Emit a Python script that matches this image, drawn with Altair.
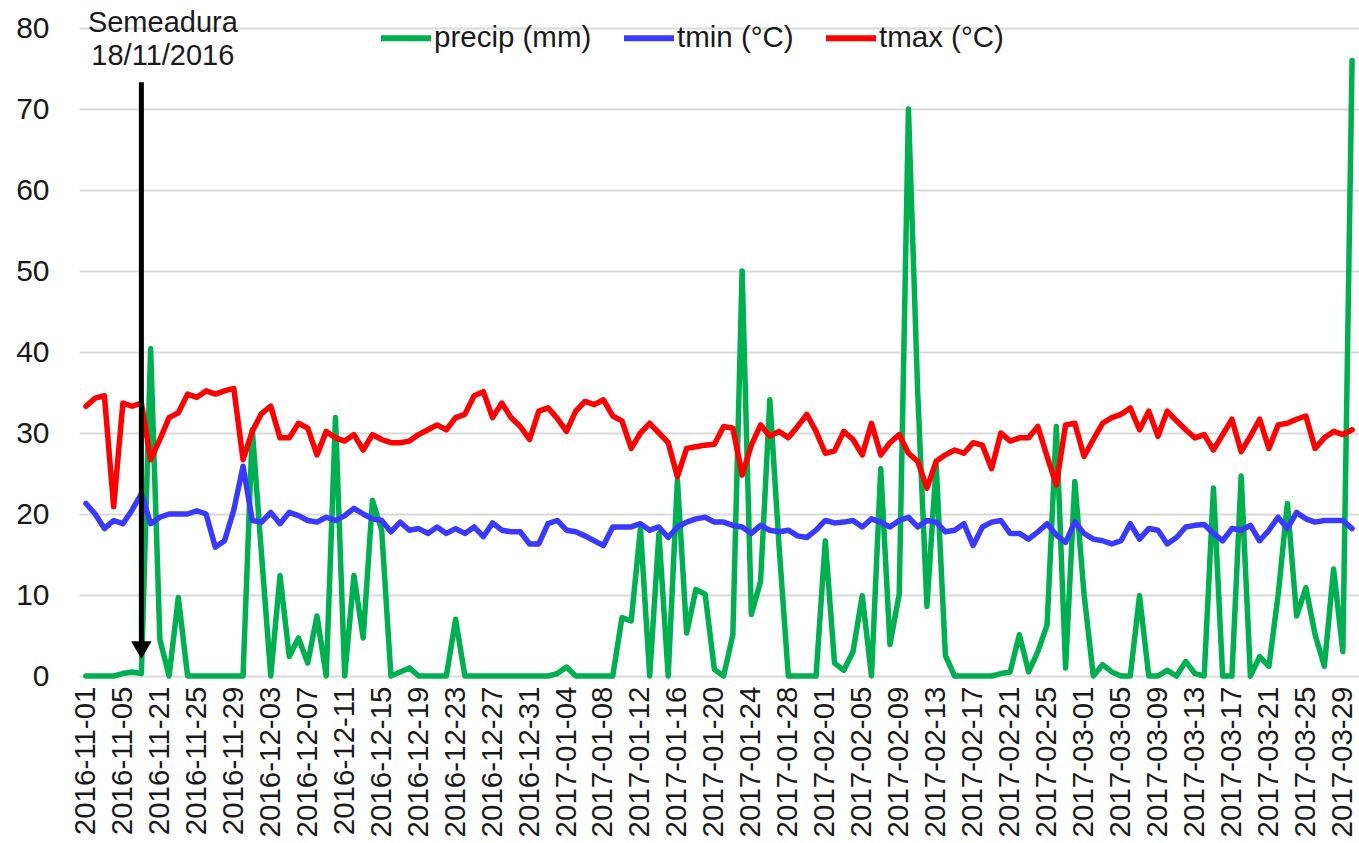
import altair as alt
import pandas as pd

# Categories (text axis: 2016-11-01..08, then 2016-11-21..2017-03-30)
dates = [d.strftime("%Y-%m-%d") for d in pd.date_range("2016-11-01", "2016-11-08")] + \
        [d.strftime("%Y-%m-%d") for d in pd.date_range("2016-11-21", "2017-03-30")]

precip = [
    0, 0, 0, 0, 0.3, 0.5, 0.3, 40.4, 4.5, 0,
    9.7, 0, 0, 0, 0, 0, 0, 0, 30.4, 15,
    0, 12.4, 2.4, 4.7, 1.6, 7.4, 0, 31.9, 0, 12.4,
    4.7, 21.7, 18, 0, 0.5, 1.0, 0, 0, 0, 0,
    7.0, 0, 0, 0, 0, 0, 0, 0, 0, 0,
    0, 0.3, 1.1, 0, 0, 0, 0, 0, 7.2, 6.8,
    18.2, 0, 17.6, 0, 24.2, 5.3, 10.7, 10.1, 0.8, 0,
    5.1, 50, 7.6, 11.7, 34.1, 16, 0, 0, 0, 0,
    16.7, 1.6, 0.7, 3.0, 9.9, 0, 25.6, 3.9, 10.1, 70,
    35, 8.6, 26.1, 2.5, 0, 0, 0, 0, 0, 0.3,
    0.5, 5.1, 0.5, 3.0, 6.3, 30.8, 1.0, 24.0, 10.1, 0,
    1.4, 0.5, 0, 0, 9.9, 0, 0, 0.7, 0, 1.8,
    0.3, 0, 23.2, 0, 0, 24.7, 0, 2.4, 1.2, 10,
    21.3, 7.4, 10.9, 5.1, 1.2, 13.2, 3.0, 76,
]

tmin = [
    21.3, 20.0, 18.2, 19.2, 18.8, 20.5, 22.5, 18.8, 19.6, 20.0,
    20.0, 20.0, 20.4, 20.0, 15.9, 16.7, 20.5, 25.9, 19.2, 19.0,
    20.2, 18.8, 20.2, 19.8, 19.2, 19.0, 19.6, 19.2, 19.8, 20.7,
    20.0, 19.4, 19.2, 17.8, 19.0, 18.0, 18.2, 17.6, 18.4, 17.6,
    18.2, 17.6, 18.4, 17.2, 18.9, 18.0, 17.8, 17.8, 16.3, 16.3,
    18.8, 19.2, 18.0, 17.8, 17.3, 16.7, 16.1, 18.4, 18.4, 18.4,
    18.8, 18.0, 18.4, 17.1, 18.4, 19.0, 19.4, 19.6, 19.0, 19.0,
    18.6, 18.4, 17.6, 18.6, 18.0, 17.8, 18.0, 17.3, 17.1, 18.0,
    19.2, 18.9, 19.0, 19.2, 18.4, 19.4, 19.0, 18.4, 19.2, 19.6,
    18.4, 19.2, 19.0, 17.8, 18.0, 18.8, 16.1, 18.4, 19.0, 19.2,
    17.6, 17.6, 16.9, 17.8, 18.8, 17.4, 16.5, 19.0, 17.6, 16.9,
    16.7, 16.3, 16.7, 18.8, 16.9, 18.2, 18.0, 16.3, 17.1, 18.4,
    18.6, 18.7, 17.6, 16.7, 18.2, 18.0, 18.6, 16.7, 18.0, 19.6,
    18.2, 20.2, 19.4, 19.0, 19.2, 19.2, 19.2, 18.2,
]

tmax = [
    33.3, 34.3, 34.6, 20.9, 33.7, 33.3, 33.7, 26.7, 29.2, 31.9,
    32.5, 34.8, 34.4, 35.2, 34.8, 35.2, 35.5, 26.7, 30.2, 32.4,
    33.3, 29.4, 29.4, 31.2, 30.6, 27.3, 30.2, 29.4, 29.0, 29.8,
    27.9, 29.8, 29.2, 28.8, 28.8, 29.0, 29.8, 30.4, 31.0, 30.4,
    31.9, 32.3, 34.6, 35.1, 31.9, 33.7, 31.9, 30.8, 29.2, 32.7,
    33.1, 31.8, 30.2, 32.7, 33.9, 33.5, 34.1, 32.1, 31.5, 28.1,
    30.0, 31.2, 30.0, 28.8, 24.6, 28.1, 28.3, 28.5, 28.6, 30.8,
    30.6, 24.8, 28.5, 31.0, 29.6, 30.2, 29.4, 30.8, 32.3, 30.2,
    27.5, 27.8, 30.2, 29.2, 27.3, 31.2, 27.3, 28.8, 29.8, 27.5,
    26.5, 23.2, 26.5, 27.3, 27.9, 27.5, 28.8, 28.5, 25.6, 30.0,
    29.0, 29.4, 29.4, 30.8, 27.1, 23.6, 31.0, 31.2, 27.1, 29.2,
    31.2, 31.9, 32.3, 33.1, 30.4, 32.7, 29.6, 32.7, 31.5, 30.4,
    29.4, 29.8, 27.9, 29.8, 31.7, 27.7, 29.6, 31.7, 28.1, 31.0,
    31.2, 31.7, 32.1, 28.1, 29.4, 30.2, 29.8, 30.4,
]

series_names = ["precip (mm)", "tmin (°C)", "tmax (°C)"]
series_colors = ["#00b050", "#3a3aff", "#ff0000"]
tick_labels = dates[::4]
y_ticks = [0, 10, 20, 30, 40, 50, 60, 70, 80]

# annotation
arrow_date = ["2016-11-07"]
arrow_top = [73.3]
arrow_bottom = [3.8]
arrow_tip = [3.2]
note_date = ["2016-11-21", "2016-11-21"]
note_lines = ["Semeadura", "18/11/2016"]
note_y = [80.6, 76.6]

FONT = "Liberation Sans"

rows = []
for name, vals in zip(series_names, [precip, tmin, tmax]):
    for d, v in zip(dates, vals):
        rows.append({"date": d, "serie": name, "valor": v})
df = pd.DataFrame(rows)

x_enc = alt.X("date:N", sort=dates, scale=alt.Scale(domain=dates, padding=0.5),
              axis=alt.Axis(title=None, values=tick_labels, labelAngle=-90,
                            labelFontSize=29.5, labelFont=FONT, labelColor="#1a1a1a",
                            ticks=False, domain=False, grid=False, labelPadding=10))
y_enc = alt.Y("valor:Q", scale=alt.Scale(domain=[0, 80], nice=False),
              axis=alt.Axis(title=None, values=y_ticks, labelFontSize=30, labelFont=FONT,
                            labelColor="#1a1a1a", ticks=False, domain=False,
                            grid=True, gridColor="#d9d9d9", gridWidth=2, labelPadding=30))
color_enc = alt.Color("serie:N",
                      scale=alt.Scale(domain=series_names, range=series_colors),
                      legend=alt.Legend(orient="none", legendX=299, legendY=-18,
                                        direction="horizontal", title=None,
                                        symbolType="stroke", symbolSize=2500,
                                        symbolStrokeWidth=6, labelFontSize=29.5,
                                        labelFont=FONT, labelColor="#1a1a1a",
                                        columnPadding=20, labelOffset=0, padding=0))

layers = []
for name in series_names:
    layers.append(
        alt.Chart(df).transform_filter(alt.datum.serie == name)
        .mark_line(strokeWidth=5.5, strokeJoin="round", strokeCap="round")
        .encode(x=x_enc, y=y_enc, color=color_enc)
    )

arrow_df = pd.DataFrame({"date": arrow_date, "top": arrow_top, "bottom": arrow_bottom, "tip": arrow_tip})
shaft = alt.Chart(arrow_df).mark_rule(color="black", strokeWidth=5).encode(
    x=alt.X("date:N", sort=dates), y=alt.Y("top:Q"), y2="bottom:Q")
head = alt.Chart(arrow_df).mark_point(shape="triangle-down", filled=True, color="black",
                                      size=420, opacity=1).encode(
    x=alt.X("date:N", sort=dates), y=alt.Y("tip:Q"))

note_df = pd.DataFrame({"date": note_date, "txt": note_lines, "y": note_y})
note = alt.Chart(note_df).mark_text(font=FONT, fontSize=29, color="#1a1a1a",
                                    align="center", baseline="middle", dx=3).encode(
    x=alt.X("date:N", sort=dates), y=alt.Y("y:Q"), text="txt:N")

chart = alt.layer(*layers, shaft, head, note).properties(
    width=1280, height=648,
    autosize=alt.AutoSizeParams(type="none"),
    padding={"left": 79, "top": 28, "right": 0, "bottom": 167},
).configure_view(stroke=None)

chart.save("out.html", embed_options={"renderer": "svg", "actions": False})
